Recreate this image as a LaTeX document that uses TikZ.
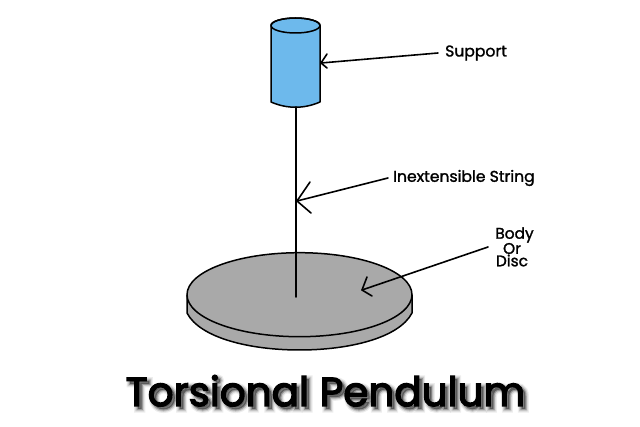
\documentclass[tikz,border=0pt]{standalone}
\usepackage{fontspec}
\setmainfont{Poppins}
\newfontfamily\labfont{Poppins}[FakeBold=1.5]
\newfontfamily\titlefont{Poppins}[FakeBold=3.5]
\newfontfamily\shadowa{Poppins}[FakeBold=6]
\newfontfamily\shadowb{Poppins}[FakeBold=12]
\newfontfamily\shadowc{Poppins}[FakeBold=18]
\usetikzlibrary{calc}
\definecolor{cylblue}{HTML}{6DB9EC}
\definecolor{discgray}{HTML}{A9A9A9}
\tikzset{
  outline/.style={draw=black,line width=1.5pt,line join=round},
  ptr/.style={draw=black,line width=1.6pt,line cap=round,line join=round},
  lab/.style={inner sep=0pt,font=\labfont\fontsize{15.6}{13}\selectfont,text=black},
  stacklab/.style={inner sep=0pt,font=\labfont\fontsize{15.4}{13}\selectfont,text=black},
  titletext/.style={inner sep=0pt,font=\titlefont\fontsize{40.5}{42}\selectfont},
  shadowtext/.style={inner sep=0pt,text=black,anchor=base},
}
\begin{document}
\begin{tikzpicture}[x=1pt,y=-1pt]
\useasboundingbox (0,0) rectangle (640,427);
% support cylinder
\path[outline,fill=cylblue] (271,25.5) -- (271,102) .. controls (287,109) and (304,109) .. (320,102) -- (320,25.5) arc[start angle=0,end angle=180,x radius=24.5,y radius=-7.5] -- cycle;
\draw[outline] (295.5,25.5) ellipse[x radius=24.5,y radius=7.5];
% disc
\path[outline,fill=discgray] (187,295) -- (187,313) .. controls (200,338) and (250,350) .. (299.5,350) .. controls (349,350) and (399,338) .. (412,313) -- (412,295) -- cycle;
\draw[outline,fill=discgray] (299.5,294.7) ellipse[x radius=112.5,y radius=42];
% string
\coordinate (stringtop) at (296,107);
\coordinate (stringend) at (296,297);
\draw[ptr] (stringtop) -- (stringend);
% labels
\node[lab,anchor=west] (support) at (445,53) {Support};
\node[lab,anchor=west] (string) at (393,178) {Inextensible String};
\node[stacklab] (body) at (514.5,235) {Body};
\node[stacklab] (or) at (512,248.5) {Or};
\node[stacklab] (discl) at (512,260.5) {Disc};
% arrows
\coordinate (a1) at (321,63);
\coordinate (a2) at (297,201);
\coordinate (a3) at (362,290);
\coordinate (t1) at (438,53);
\coordinate (t2) at (388,178);
\coordinate (t3) at (488,247);
\draw[ptr] (t1) -- (a1);
\draw[ptr] (327,54) -- (a1) -- (327,68);
\draw[ptr] (t2) -- (a2);
\draw[ptr] (310,182) -- (a2) -- (311,213);
\draw[ptr] (t3) -- (a3);
\draw[ptr] (367,277) -- (a3) -- (372,296);
% title with soft shadow
\node[shadowtext,opacity=.07,font=\shadowc\fontsize{40.5}{42}\selectfont] at (328.5,409) {Torsional Pendulum};
\node[shadowtext,opacity=.14,font=\shadowb\fontsize{40.5}{42}\selectfont] at (328.5,409) {Torsional Pendulum};
\node[shadowtext,opacity=.25,font=\shadowa\fontsize{40.5}{42}\selectfont] at (328.5,409) {Torsional Pendulum};
\node[titletext,text=black,anchor=base] (title) at (325.5,406) {Torsional Pendulum};
\end{tikzpicture}
\end{document}
